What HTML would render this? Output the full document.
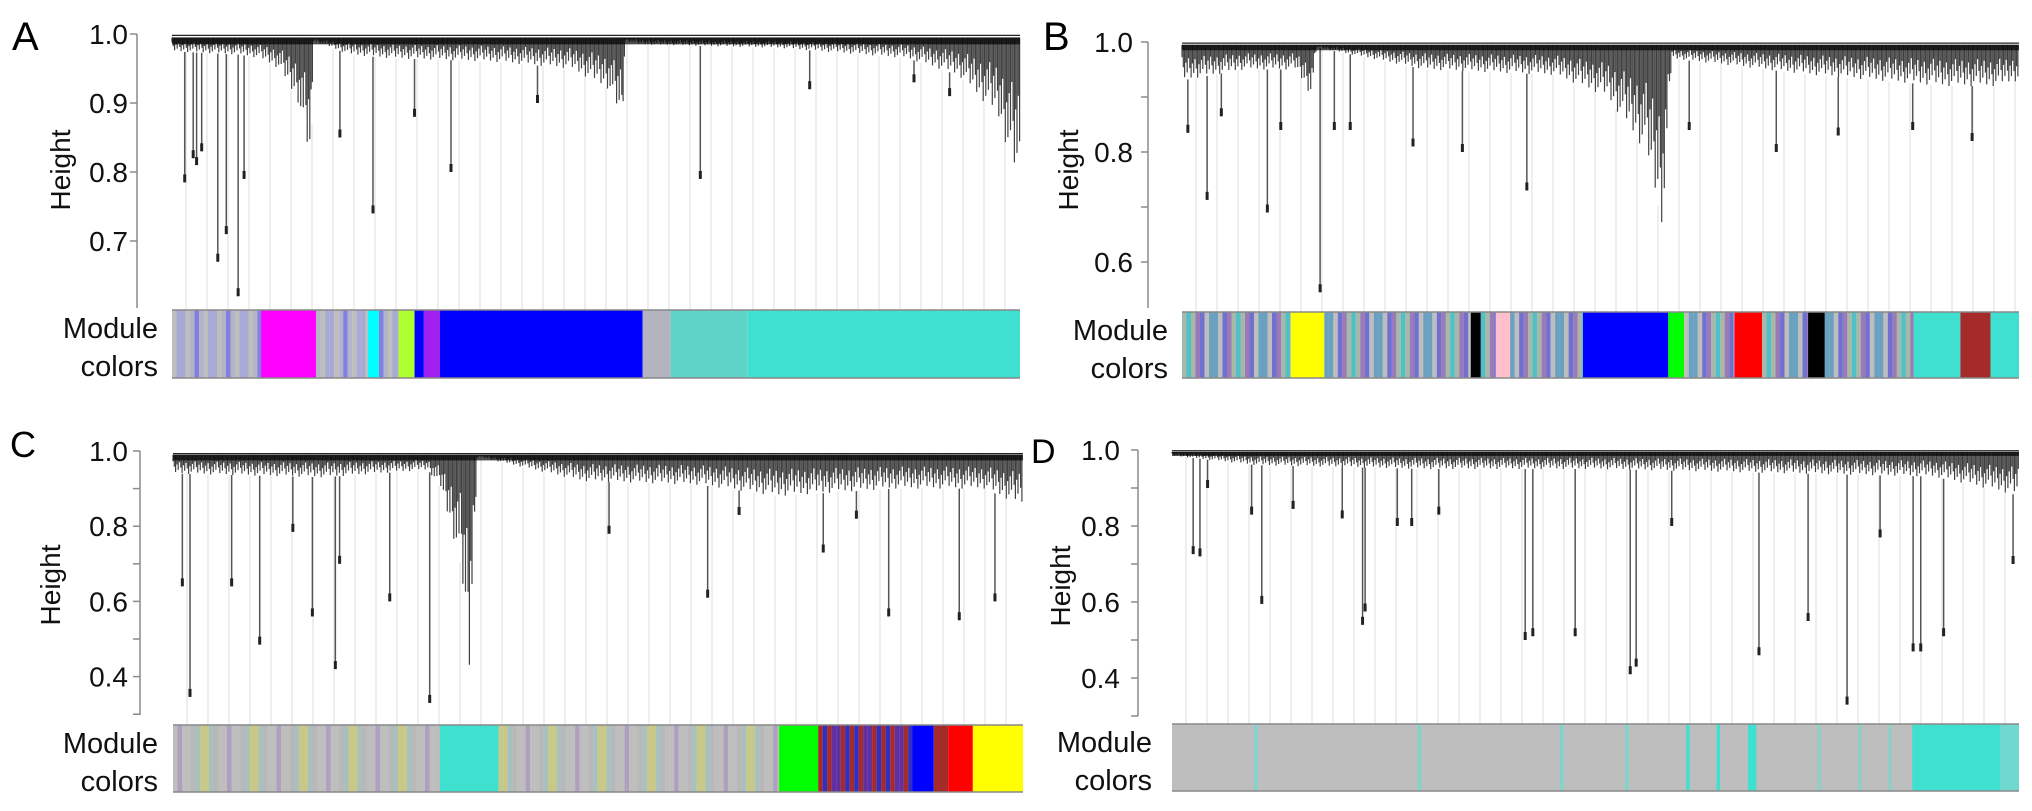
<!DOCTYPE html>
<html><head><meta charset="utf-8"><style>
html,body{margin:0;padding:0;background:#fff;}
svg{display:block;font-family:"Liberation Sans",Arial,sans-serif;}
</style></head><body>
<svg id="fig" width="2032" height="811" viewBox="0 0 2032 811" xmlns="http://www.w3.org/2000/svg"></svg>
<script>
// ---------- data (leaf positions in per-mille of leaf order, heights) ----------
const aProfileX=[0,80,103,126,149,164,167,210,256,378,470,515,531,535,553,714,867,928,974,1000];
const aProfileH=[0.975,0.97,0.965,0.95,0.90,0.80,0.99,0.97,0.965,0.96,0.95,0.92,0.87,0.99,0.985,0.98,0.965,0.94,0.88,0.77];
const aDropX=[15,25,29,35,54,64,78,85,198,237,286,329,431,623,752,875,917];
const aDropH=[0.785,0.82,0.81,0.83,0.67,0.71,0.62,0.79,0.85,0.74,0.88,0.80,0.90,0.79,0.92,0.93,0.91];
const aTicks=[1.0,0.9,0.8,0.7];
const aTickLabels=["1.0","0.9","0.8","0.7"];

const bProfileX=[0,74,136,155,161,291,446,508,554,575,585,755,910,972,1000];
const bProfileH=[0.93,0.95,0.95,0.90,0.99,0.95,0.94,0.90,0.80,0.66,0.97,0.94,0.92,0.92,0.93];
const bDropX=[7,30,47,102,118,165,182,201,276,335,412,606,710,784,873,944];
const bDropH=[0.835,0.713,0.865,0.69,0.84,0.545,0.84,0.84,0.81,0.80,0.73,0.84,0.80,0.83,0.84,0.82];
const bTicks=[1.0,0.9,0.8,0.7,0.6];
const bTickLabels=["1.0","","0.8","","0.6"];

const cProfileX=[0,178,300,315,338,349,358,482,620,711,848,955,993,1000];
const cProfileH=[0.94,0.93,0.95,0.90,0.70,0.40,0.985,0.92,0.91,0.88,0.90,0.90,0.86,0.86];
const cDropX=[11,20,69,102,141,164,191,196,255,302,513,629,666,765,804,842,925,967];
const cDropH=[0.64,0.346,0.64,0.485,0.785,0.56,0.42,0.70,0.60,0.33,0.78,0.61,0.83,0.73,0.82,0.56,0.55,0.60];
const cTicks=[1.0,0.9,0.8,0.7,0.6,0.5,0.4,0.3];
const cTickLabels=["1.0","","0.8","","0.6","","0.4",""];

const dProfileX=[0,100,300,500,700,900,960,1000];
const dProfileH=[0.985,0.96,0.95,0.95,0.94,0.93,0.90,0.88];
const dDropX=[25,33,42,94,106,143,201,225,228,266,283,315,417,426,476,541,548,590,693,751,797,836,875,884,911,993];
const dDropH=[0.726,0.72,0.90,0.83,0.595,0.845,0.82,0.54,0.575,0.80,0.80,0.83,0.50,0.51,0.51,0.41,0.43,0.80,0.46,0.55,0.33,0.77,0.47,0.47,0.51,0.70];
const dTicks=[1.0,0.9,0.8,0.7,0.6,0.5,0.4,0.3];
const dTickLabels=["1.0","","0.8","","0.6","","0.4",""];

// module colour blocks: start, end (per-mille), colour ('mix' = striped mixture)
const aBlockStart=[0,105,170,231,244,267,286,297,316,555,588,679];
const aBlockEnd=[105,170,231,244,267,286,297,316,555,588,679,1000];
const aBlockColor=["mix","#ff00ff","mix","#00ffff","mix","#adff2f","#0000ff","#a020f0","#0000ff","#b4b4c0","#5fd3c8","#40e0d0"];
const aMix=["#bebebe","#a9a9d6","#8080e0","#c0b0d0","#9a9ae8","#b4b4c8","#6a6ae8"];

const bBlockStart=[0,130,170,345,357,375,392,479,581,600,660,693,748,768,874,930,966];
const bBlockEnd=[130,170,345,357,375,392,479,581,600,660,693,748,768,874,930,966,1000];
const bBlockColor=["mix","#ffff00","mix","#000000","mix","#ffc0cb","mix","#0000ff","#00ff00","mix","#ff0000","mix","#000000","mix","#40e0d0","#a52a2a","#40e0d0"];
const bMix=["#a8b8a8","#bebebe","#7070d0","#b05090","#8fc0c0","#a0a0a0","#6aa0c0","#c89098","#50c0c8","#9a7ab8","#bebebe"];

const cBlockStart=[0,314,383,713,759,870,895,912,941];
const cBlockEnd=[314,383,713,759,870,895,912,941,1000];
const cBlockColor=["mix","#40e0d0","mix","#00ff00","mix2","#0000ff","#a52a2a","#ff0000","#ffff00"];
const cMix=["#bebebe","#a8c0c0","#b8b8b8","#c0a0a0","#90c8c0","#8090e0","#c8c888","#90d890","#b0a0c0","#bebebe","#d8d860"];
const cMix2=["#a52a2a","#6030a0","#a52a2a","#8050b0","#b02828","#3030c0","#a52a2a"];

const dBlockStart=[0,97,290,458,535,607,643,680,762,810,846,874,978];
const dBlockEnd=[1000,101,294,462,539,611,647,690,766,814,850,978,1000];
const dBlockColor=["#bebebe","#7cd6cc","#7cd6cc","#7cd6cc","#7cd6cc","#40e0d0","#40e0d0","#40e0d0","#8cd0c8","#8cd0c8","#8cd0c8","#40e0d0","#70d8ce"];

// ---------- rendering ----------
const NS="http://www.w3.org/2000/svg";
const svg=document.getElementById('fig');
function mk(tag,attrs,parent){const e=document.createElementNS(NS,tag);for(const k in attrs)e.setAttribute(k,attrs[k]);(parent||svg).appendChild(e);return e;}
function interp(xs,hs,p){
  if(p<=xs[0])return hs[0];
  for(let i=1;i<xs.length;i++){if(p<=xs[i]){const t=(p-xs[i-1])/(xs[i]-xs[i-1]);return hs[i-1]+t*(hs[i]-hs[i-1]);}}
  return hs[hs.length-1];
}
function panel(P){
  const g=mk('g',{});
  
  
  const X=pm=>P.x0+pm/1000*(P.x1-P.x0);
  const Y=h=>P.y1+(1-h)*P.scale;
  const L=mk('text',{x:P.lx,y:P.ly,'font-size':P.lfs,fill:'#000'},g);L.textContent=P.id;
  
  
  const gl=mk('g',{stroke:'#dedede','stroke-width':1},g);
  
  
  for(let x=P.x0+14;x<P.x1;x+=21){
    const pm=(x-P.x0)/(P.x1-P.x0)*1000;
    mk('line',{x1:x,x2:x,y1:Y(interp(P.px,P.ph,pm)),y2:P.barTop},gl);
  }
  const ax=mk('g',{stroke:'#8a8a8a','stroke-width':1.5},g);
  
  
  mk('line',{x1:P.ax,x2:P.ax,y1:Y(P.ticks[0]),y2:P.axBottom},ax);
  P.ticks.forEach((t,i)=>{
    mk('line',{x1:P.ax-7,x2:P.ax,y1:Y(t),y2:Y(t)},ax);
    if(P.labels[i]){
      const tx=mk('text',{x:P.tlx,y:Y(t)+10,'font-size':28,'text-anchor':'end',fill:'#111',stroke:'none'},g);
      tx.textContent=P.labels[i];
      
      
    }
  });
  const yt=mk('text',{x:0,y:0,'font-size':28,'text-anchor':'middle',fill:'#111',transform:`translate(${P.hx},${P.hy}) rotate(-90)`},g);
  yt.textContent='Height';
  
  
  const dg=mk('g',{stroke:'#555','stroke-width':1.5},g);
  
  
  P.dx.forEach((pm,i)=>{
    const top=interp(P.px,P.ph,pm);
    const l=mk('line',{x1:X(pm),x2:X(pm),y1:Y(top),y2:Y(P.dh[i])},dg);
    
    mk('line',{x1:X(pm),x2:X(pm),y1:Y(P.dh[i])-8,y2:Y(P.dh[i]),'stroke-width':3,stroke:'#222'},dg);
  });
  const cg=mk('g',{stroke:'#000','stroke-width':1.2,'stroke-opacity':0.75},g);
  
  
  let i=0;
  for(let x=P.x0;x<=P.x1;x+=1.3,i++){
    const pm=(x-P.x0)/(P.x1-P.x0)*1000;
    const bot=interp(P.px,P.ph,pm);
    const f=0.35+0.65*((i*7)%17)/16;
    const hb=P.top-(P.top-bot)*f;
    mk('line',{x1:x,x2:x,y1:Y(P.top),y2:Y(hb)},cg);
  }
  mk('rect',{x:P.x0,y:Y(P.top),width:P.x1-P.x0,height:Math.max(4,(P.top-P.band)*P.scale),fill:'#000','fill-opacity':0.7},g);
  mk('line',{x1:P.x0,x2:P.x1,y1:Y(P.top+0.003),y2:Y(P.top+0.003),stroke:'#222','stroke-width':1.2},g);
  const bg=mk('g',{},g);
  
  
  const bh=P.barBot-P.barTop;
  P.bs.forEach((s,k)=>{
    const c=P.bc[k];
    if(c==='mix'||c==='mix2'){
      const pal=c==='mix'?P.mix:P.mix2;
      let j=k*3;
      for(let x=X(s);x<X(P.be[k]);x+=4.5,j++){
        mk('rect',{x:x,y:P.barTop,width:Math.min(4.6,X(P.be[k])-x),height:bh,fill:pal[(j*j*3+j*5)%pal.length]},bg);
      }
    } else {
      const r=mk('rect',{x:X(s),y:P.barTop,width:X(P.be[k])-X(s),height:bh,fill:c},bg);
      
    }
  });
  mk('line',{x1:P.x0,x2:P.x1,y1:P.barTop,y2:P.barTop,stroke:'#888','stroke-width':1.5},bg);
  mk('line',{x1:P.x0,x2:P.x1,y1:P.barBot,y2:P.barBot,stroke:'#888','stroke-width':1.5},bg);
  const m1=mk('text',{x:P.mx,y:P.barTop+28,'font-size':29,'text-anchor':'end',fill:'#111'},g);m1.textContent='Module';
  
  
  const m2=mk('text',{x:P.mx,y:P.barTop+66,'font-size':29,'text-anchor':'end',fill:'#111'},g);m2.textContent='colors';
  
  
}
panel({id:'A',lx:12,ly:50,lfs:40,x0:172,x1:1020,y1:34,scale:690,ax:137,axBottom:308,tlx:128,hx:70,hy:170,
  ticks:aTicks,labels:aTickLabels,px:aProfileX,ph:aProfileH,dx:aDropX,dh:aDropH,top:0.995,band:0.985,
  barTop:310,barBot:378,mx:158,bs:aBlockStart,be:aBlockEnd,bc:aBlockColor,mix:aMix});
panel({id:'B',lx:1043,ly:50,lfs:40,x0:1182,x1:2019,y1:42,scale:550,ax:1148,axBottom:308,tlx:1133,hx:1078,hy:170,
  ticks:bTicks,labels:bTickLabels,px:bProfileX,ph:bProfileH,dx:bDropX,dh:bDropH,top:0.995,band:0.985,
  barTop:312,barBot:378,mx:1168,bs:bBlockStart,be:bBlockEnd,bc:bBlockColor,mix:bMix});
panel({id:'C',lx:10,ly:457,lfs:36,x0:173,x1:1023,y1:451,scale:376,ax:140,axBottom:715,tlx:128,hx:60,hy:585,
  ticks:cTicks,labels:cTickLabels,px:cProfileX,ph:cProfileH,dx:cDropX,dh:cDropH,top:0.99,band:0.975,
  barTop:725,barBot:792,mx:158,bs:cBlockStart,be:cBlockEnd,bc:cBlockColor,mix:cMix,mix2:cMix2});
panel({id:'D',lx:1031,ly:463,lfs:34,x0:1172,x1:2019,y1:450,scale:380,ax:1138,axBottom:716,tlx:1120,hx:1070,hy:586,
  ticks:dTicks,labels:dTickLabels,px:dProfileX,ph:dProfileH,dx:dDropX,dh:dDropH,top:0.995,band:0.99,
  barTop:724,barBot:791,mx:1152,bs:dBlockStart,be:dBlockEnd,bc:dBlockColor,mix:["#bebebe"]});
</script>
</body></html>
